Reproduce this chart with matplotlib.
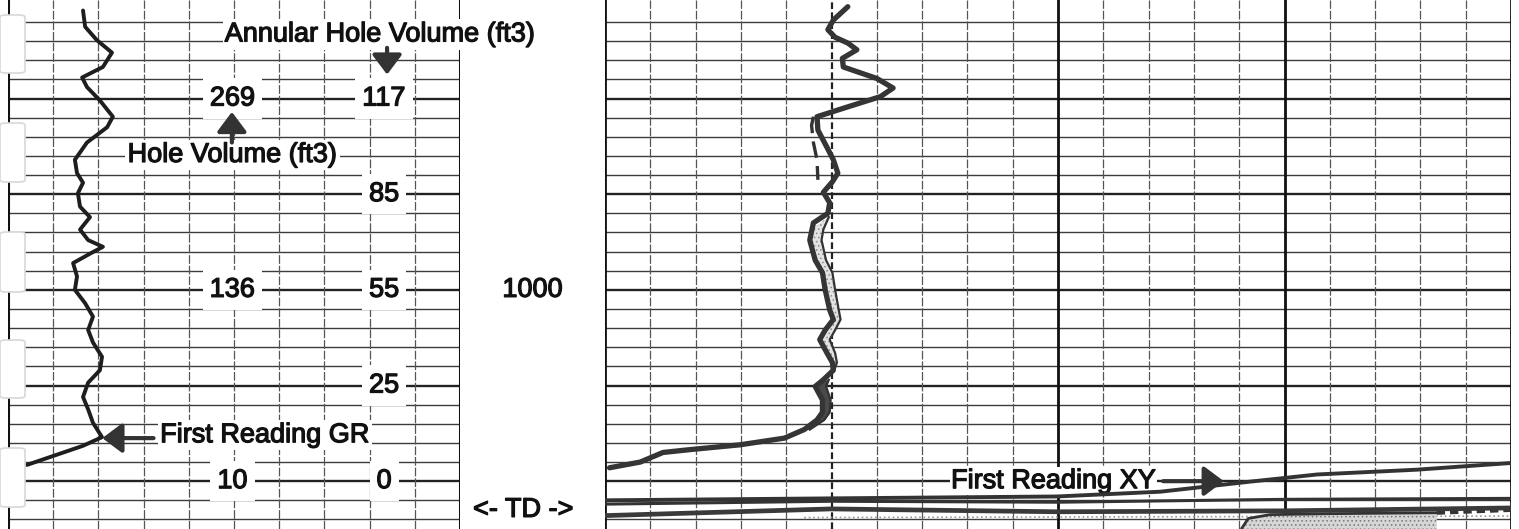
#!/usr/bin/env python

""" Redraw of a scanned well log strip: GR track, depth track and
a right hand track with the first readings near TD. """

import matplotlib.pyplot as plt
import matplotlib.patheffects as pe
from matplotlib.patches import FancyBboxPatch

plt.rcParams['font.family'] = ['Liberation Sans', 'DejaVu Sans']
plt.rcParams['hatch.linewidth'] = 0.6

# Depth window shown on the strip (ft)
depth_top = 969.7
depth_bottom = 1025.0

# Gamma ray trace, left track (API, 0-150)
gr_depth = [970.8, 972.5, 973.9, 975.2, 976.7, 977.8, 978.8, 980.2, 981.9,
            983.0, 984.6, 986.4, 987.8, 988.8, 989.9, 991.3, 992.4, 993.7,
            994.8, 995.5, 996.1, 997.2, 998.6, 1000.0, 1001.4, 1002.8,
            1004.2, 1005.5, 1007.0, 1008.4, 1009.7, 1011.2, 1012.5, 1013.9,
            1015.4, 1016.3, 1018.3]
gr_api = [24.9, 25.6, 29.5, 34.5, 31.5, 24.6, 26.2, 30.5, 34.8,
          32.9, 26.2, 22.2, 22.9, 24.9, 23.2, 23.9, 27.2, 23.9,
          26.6, 31.5, 27.9, 21.6, 22.9, 22.2, 25.6, 28.2,
          26.6, 28.2, 31.2, 30.5, 26.6, 24.9, 26.6, 28.2,
          31.2, 24.9, 6.3]

# Right track main trace (track units 0-100)
rt_depth = [970.4, 971.8, 972.8, 973.6, 974.2, 974.9, 975.8, 976.7, 977.9,
            978.9, 979.8, 980.9, 981.9, 983.3, 985.1, 986.4, 987.8, 988.7,
            989.8, 990.9, 992.0, 993.0, 994.8, 996.9, 998.2, 1000.0, 1002.1,
            1003.1, 1004.2, 1005.2, 1006.6, 1007.6, 1008.4, 1009.4, 1010.1,
            1011.5, 1012.8, 1013.6, 1014.6, 1015.5, 1016.2, 1016.7, 1017.0,
            1018.0, 1018.6]
rt_value = [26.8, 25.2, 24.6, 25.4, 26.8, 27.8, 26.2, 26.3, 30.0,
            31.8, 30.4, 26.7, 23.4, 23.5, 24.5, 25.2, 25.7, 25.1,
            24.1, 24.8, 24.6, 23.0, 22.6, 23.2, 24.0, 24.3, 24.8,
            25.2, 24.3, 23.7, 24.5, 25.1, 25.2, 24.1, 23.2,
            24.0, 24.0, 23.4, 22.0, 19.8, 14.9, 9.4, 6.4,
            3.9, 0.5]

# Companion trace, dashed upper part
rt2_depth = [981.9, 982.8, 984.6, 986.4, 988.5]
rt2_value = [23.0, 22.8, 23.0, 23.4, 23.5]

# Stippled band between the two traces
band_depth = [992.4, 993.7, 994.8, 996.9, 998.2, 1000.0, 1002.1, 1003.1,
              1004.2, 1005.2, 1006.6, 1007.6, 1008.4]
band_left = [24.6, 22.8, 22.6, 23.2, 24.0, 24.3, 24.8, 25.2,
             24.3, 23.7, 24.5, 25.1, 25.2]
band_right = [24.7, 24.1, 23.9, 24.4, 25.1, 25.4, 25.8, 26.0,
              25.4, 24.8, 25.4, 25.6, 25.3]

# Dark band lower down
dark_depth = [1009.4, 1010.1, 1011.5, 1012.8, 1013.6, 1014.6]
dark_left = [24.1, 23.2, 24.0, 24.0, 23.4, 22.0]
dark_right = [24.7, 24.4, 24.9, 24.8, 24.2, 22.6]

# Traces near TD
xy_value = [0, 24.8, 49.9, 61.3, 71.2, 78.6, 89.6, 100]
xy_depth = [1022.0, 1021.8, 1021.6, 1021.1, 1020.05, 1019.3, 1018.8, 1018.1]
base_value = [0, 25, 50, 75, 100]
base_depth = [1022.4, 1022.1, 1022.2, 1021.9, 1021.8]
low_value = [0, 25, 50, 75, 100]
low_depth = [1023.6, 1022.9, 1023.2, 1023.1, 1022.8]
fill_value = [70.3, 71.0, 73.4, 80.0, 91.8]
fill_depth = [1024.9, 1023.9, 1023.5, 1023.4, 1023.3]

# Volume tick labels
hv_labels = ['269', '136', '10']
hv_depth = [980, 1000, 1020]
ahv_labels = ['117', '85', '55', '25', '0']
ahv_depth = [980, 990, 1000, 1010, 1020]


W, H = 1519, 529
fig = plt.figure(figsize=(W / 100, H / 100), dpi=100, facecolor='white')

ax_gr = fig.add_axes([8 / W, 0, 452 / W, 1])
ax_dp = fig.add_axes([460 / W, 0, 145 / W, 1])
ax_rt = fig.add_axes([605 / W, 0, 906 / W, 1])

ax_gr.set_xlim(0, 150)
ax_dp.set_xlim(0, 1)
ax_rt.set_xlim(0, 100)
for ax in (ax_gr, ax_dp, ax_rt):
    ax.set_ylim(depth_bottom, depth_top)
    ax.axis('off')
    ax.patch.set_visible(False)

grid_c = '#3c3c3c'
FS = 19.5
bold = [pe.withStroke(linewidth=0.9, foreground='#111')]

# Horizontal grid in both log tracks
for ax in (ax_gr, ax_rt):
    for d in range(972, 1025, 2):
        heavy = d % 10 == 0
        ax.axhline(d, color='#222' if heavy else grid_c,
                   lw=1.7 if heavy else 1.0, zorder=1)

# Vertical grid, left track
for g in range(0, 151, 15):
    if g in (0, 150):
        ax_gr.axvline(g, color='#111', lw=2.2, zorder=2)
    else:
        ax_gr.axvline(g, color='#555', lw=0.9, ls=(0, (7, 1.5)), zorder=1)

# Vertical grid, right track
for v in range(0, 101, 5):
    if v in (0, 50, 75, 100):
        ax_rt.axvline(v, color='#111', lw=2.0, zorder=2)
    elif v == 25:
        ax_rt.axvline(v, color='#222', lw=1.6, ls=(0, (3, 1.5)), zorder=2)
    else:
        ax_rt.axvline(v, color='#555', lw=0.9, ls=(0, (7, 1.5)), zorder=1)

# Curves
ax_gr.plot(gr_api, gr_depth, color='#1e1e1e', lw=2.8, zorder=5,
           solid_joinstyle='round', solid_capstyle='round')

ax_rt.fill_betweenx(band_depth, band_left, band_right, facecolor='#e2e2e2',
                    edgecolor='#8a8a8a', hatch='....', lw=0, zorder=4)
ax_rt.fill_betweenx(dark_depth, dark_left, dark_right, color='#4a4a4a',
                    lw=0, zorder=4)
ax_rt.plot(band_right, band_depth, color='#333', lw=1.6, zorder=5)
ax_rt.plot(dark_right, dark_depth, color='#333', lw=1.6, zorder=5)
ax_rt.plot(rt2_value, rt2_depth, color='#333', lw=2.4,
           ls=(0, (5, 2.5)), zorder=5)
ax_rt.plot(rt_value, rt_depth, color='#353535', lw=3.8, zorder=6,
           solid_joinstyle='round', solid_capstyle='round')

ax_rt.fill_between(fill_value, fill_depth, depth_bottom, facecolor='#d6d6d6',
                   edgecolor='#777', hatch='....', lw=0, zorder=4)
ax_rt.plot(fill_value, fill_depth, color='#333', lw=2.0, zorder=5)
ax_rt.plot([fill_value[-1], 100], [fill_depth[-1], low_depth[-1] + 0.2],
           color='#333', lw=3.0, ls=(0, (2, 1.2)), zorder=5)
ax_rt.plot([22, 100], [1023.8, 1023.65], color='#999', lw=1.2, ls=':', zorder=3)
ax_rt.plot(low_value, low_depth, color='#3a3a3a', lw=3.4, zorder=5)
ax_rt.plot(base_value, base_depth, color='#333', lw=2.2, zorder=5)
ax_rt.plot(xy_value, xy_depth, color='#333', lw=2.8, zorder=5)

# Text
box = dict(facecolor='white', edgecolor='none', pad=1.5)
numbox = dict(facecolor='white', edgecolor='none', pad=5)
txt = dict(fontsize=FS, color='#111', ha='center', va='center', zorder=4,
           path_effects=bold)

for lab, d in zip(hv_labels, hv_depth):
    ax_gr.text(74.5, d, lab, bbox=numbox, **txt)
for lab, d in zip(ahv_labels, ahv_depth):
    ax_gr.text(124.8, d, lab, bbox=numbox, **txt)

ax_gr.text(123.5, 973.3, 'Annular Hole Volume (ft3)', bbox=box,
           clip_on=False, **txt)
ax_gr.text(74.5, 985.9, 'Hole Volume (ft3)', bbox=box, **txt)
ax_gr.text(50.5, 1015.2, 'First Reading GR', fontsize=FS, color='#111',
           ha='left', va='center', bbox=box, zorder=4, path_effects=bold)

arrow = dict(arrowstyle='-|>,head_length=0.6,head_width=0.45',
             mutation_scale=20, lw=3, color='#333', shrinkA=0, shrinkB=0)
ax_gr.annotate('', xy=(125.8, 977.5), xytext=(125.8, 974.7),
               arrowprops=arrow, zorder=6)
ax_gr.annotate('', xy=(74.3, 981.4), xytext=(74.3, 984.6),
               arrowprops=arrow, zorder=6)
ax_gr.annotate('', xy=(31.3, 1015.5), xytext=(48.3, 1015.5),
               arrowprops=arrow, zorder=6)

ax_dp.text(0.5, 1000, '1000', **txt)
ax_dp.text(0.09, 1023.0, '<- TD ->', fontsize=FS, color='#111',
           ha='left', va='center', path_effects=bold)

ax_rt.text(38.2, 1020.0, 'First Reading XY', fontsize=FS, color='#111',
           ha='left', va='center', bbox=dict(facecolor='white',
           edgecolor='none', pad=0.5), zorder=4, path_effects=bold)
ax_rt.annotate('', xy=(68.3, 1020.0), xytext=(61.6, 1020.0),
               arrowprops=arrow, zorder=6)

# Binder tabs along the left edge of the scan
for top, bot in [(15, 73), (123, 182), (232, 292), (340, 398), (448, 507)]:
    fig.patches.append(FancyBboxPatch(
        (0, 1 - bot / H), 25 / W, (bot - top) / H,
        boxstyle='round,pad=0,rounding_size=0.004',
        facecolor='white', edgecolor='#d8d8d8', lw=1.2,
        transform=fig.transFigure, zorder=10))

fig.savefig('out.png', dpi=100, facecolor='white')
